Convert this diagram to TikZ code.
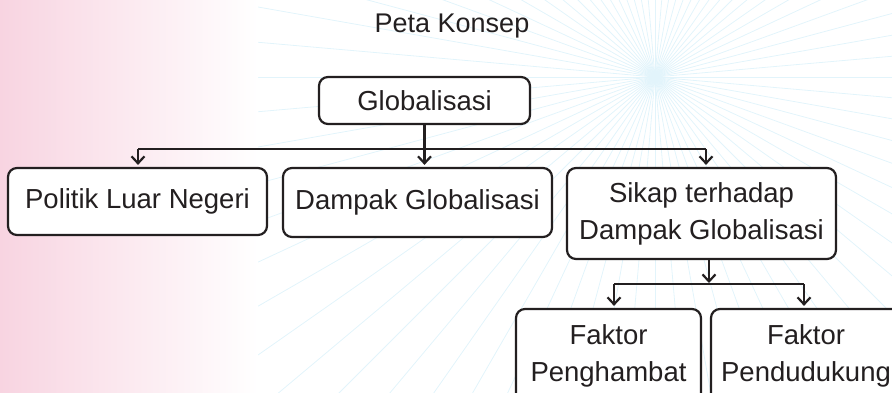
\documentclass[tikz,border=0pt]{standalone}
\usepackage{fontspec}
\setmainfont{Liberation Sans}
\usepackage{tikz}
\usetikzlibrary{arrows.meta}
\usetikzlibrary{calc}
\usetikzlibrary{positioning}
\definecolor{pinkbg}{RGB}{248,212,225}
\definecolor{raycol}{RGB}{226,244,251}
\definecolor{inkcol}{RGB}{35,31,32}

\begin{document}
\begin{tikzpicture}[x=1pt, y=-1pt,
		konsep/.style={draw=inkcol, line width=2.2pt, rounded corners=9pt, fill=white, align=center, inner sep=0pt, text=inkcol, font=\fontsize{27.5}{37}\selectfont},
		panah/.style={draw=inkcol, line width=2.2pt, -{Straight Barb[length=7pt, width=13pt, line width=2.2pt]}},
		garis/.style={draw=inkcol, line width=2.2pt},
		sinar/.style={draw=raycol, line width=0.8pt}]
		\useasboundingbox (0,0) rectangle (892,392);
		\clip (0,0) rectangle (892,392);

		% background: rays and pink band
		\coordinate (pusat) at (655,77);
		\foreach \a in {0,5,...,355} {
			\draw[sinar] (pusat) -- ++(\a:1000);
		}
		\shade[left color=pinkbg, right color=white] (0,0) rectangle (258,392);

		% title
		\node (judul) at (452,26) [text=inkcol, font=\fontsize{27}{30}\selectfont] {Peta Konsep};

		% concept boxes
		\node (glob) at (424.5,100.5) [konsep, minimum width=211pt, minimum height=47pt] {Globalisasi};
		\node (pol) at (137.5,201.5) [konsep, minimum width=259pt, minimum height=67pt] {Politik Luar Negeri};
		\node (dampak) at (417.5,202.5) [konsep, minimum width=269pt, minimum height=69pt] {Dampak Globalisasi};
		\node (sikap) at (701.5,213.5) [konsep, minimum width=269pt, minimum height=91pt] {Sikap terhadap\\Dampak Globalisasi};
		\node (hambat) at (608.5,356) [konsep, minimum width=185pt, minimum height=94pt] {Faktor\\Penghambat};
		\node (dukung) at (806,356) [konsep, minimum width=190pt, minimum height=94pt] {Faktor\\Pendudukung};

		% connectors from Globalisasi
		\coordinate (kiri1) at (138,149);
		\coordinate (kanan1) at (706,149);
		\draw[garis] (kiri1) -- (kanan1);
		\draw[panah] (glob.south) -- ($(glob.south |- dampak.north)+(0,-2)$);
		\draw[panah] (kiri1) -- ($(kiri1 |- pol.north)+(0,-2)$);
		\draw[panah] (kanan1) -- ($(kanan1 |- sikap.north)+(0,-2)$);

		% connectors from Sikap
		\coordinate (kiri2) at (614,284);
		\coordinate (kanan2) at (804,284);
		\coordinate (tengah2) at (709,283);
		\draw[garis] (kiri2) -- (kanan2);
		\draw[panah] (tengah2 |- sikap.south) -- (tengah2);
		\draw[panah] (kiri2) -- ($(kiri2 |- hambat.north)+(0,-2)$);
		\draw[panah] (kanan2) -- ($(kanan2 |- dukung.north)+(0,-2)$);
	\end{tikzpicture}
\end{document}
